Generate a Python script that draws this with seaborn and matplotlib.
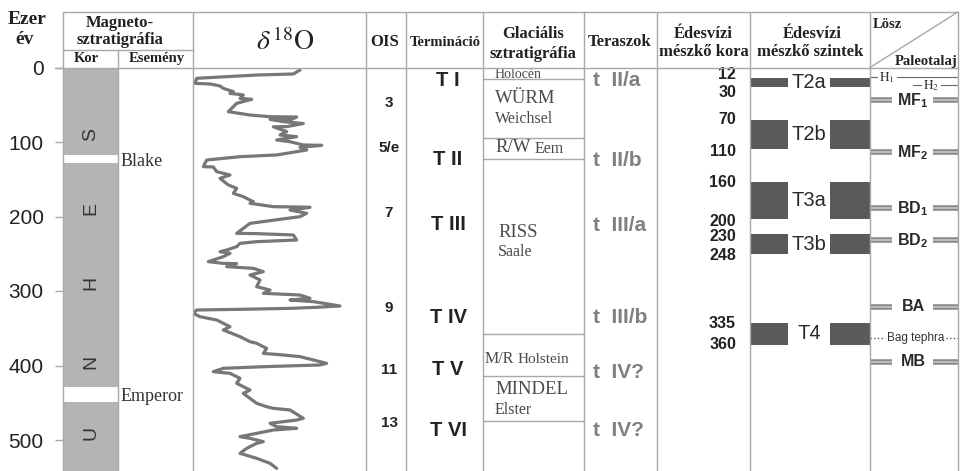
import pandas as pd
import seaborn as sns
import matplotlib.pyplot as plt

# delta18O curve: age (ka) and value (permil)
d18o_age = [3.4, 8.7, 10.1, 14.5, 21.3, 22.1, 24.8, 28.0, 32.4, 34.7,
            36.9, 41.4, 42.7, 48.1, 59.3, 63.8, 66.0, 66.5, 70.5, 69.6,
            72.7, 74.9, 75.2, 79.4, 79.6, 86.1, 90.6, 92.8, 97.3, 99.6,
            104.0, 104.5, 107.2, 110.7, 113.0, 117.4, 119.7, 124.2, 133.1, 133.5,
            139.8, 144.3, 148.8, 157.7, 162.2, 168.9, 173.4, 180.1, 182.3, 186.8,
            187.3, 187.7, 191.3, 195.7, 200.2, 209.2, 222.6, 223.0, 224.8, 231.5,
            233.8, 236.0, 240.5, 245.0, 247.2, 249.4, 253.9, 260.6, 262.9, 263.3,
            267.3, 269.6, 274.0, 278.5, 285.2, 294.2, 298.7, 303.1, 305.4, 309.8,
            312.1, 314.3, 320.1, 321.9, 323.3, 324.6, 325.5, 330.0, 334.5, 338.9,
            347.9, 352.3, 361.3, 368.0, 370.2, 377.0, 383.7, 385.9, 388.1, 397.1,
            399.3, 401.6, 403.8, 408.3, 410.5, 417.2, 423.9, 428.4, 432.9, 437.4,
            444.1, 450.8, 455.3, 457.5, 459.7, 470.9, 473.2, 477.6, 482.1, 484.3,
            486.6, 495.5, 497.8, 502.2, 504.5, 511.2, 517.9, 524.6, 531.3, 538.0]
d18o_val = [3.68, 3.76, 4.20, 4.92, 4.94, 4.76, 4.64, 4.60, 4.48, 4.52,
            4.36, 4.40, 4.26, 4.44, 4.54, 4.28, 4.04, 3.72, 3.80, 4.04,
            3.88, 3.68, 3.64, 3.84, 4.00, 3.84, 3.92, 3.72, 3.96, 3.80,
            3.64, 3.42, 3.68, 3.60, 3.72, 3.96, 4.40, 4.80, 4.84, 4.72,
            4.68, 4.52, 4.64, 4.54, 4.44, 4.48, 4.36, 4.24, 4.28, 4.00,
            3.68, 3.56, 3.80, 3.60, 3.68, 4.28, 4.44, 4.20, 3.76, 3.72,
            4.20, 4.40, 4.44, 4.56, 4.64, 4.52, 4.60, 4.78, 4.60, 4.44,
            4.56, 4.24, 4.12, 4.28, 4.16, 4.20, 4.04, 4.12, 3.68, 3.56,
            3.80, 3.52, 3.20, 3.48, 3.80, 4.40, 4.92, 4.96, 4.88, 4.68,
            4.52, 4.60, 4.40, 4.28, 4.20, 4.08, 4.12, 3.88, 3.68, 3.36,
            3.44, 4.12, 4.60, 4.72, 4.52, 4.40, 4.44, 4.36, 4.28, 4.36,
            4.28, 4.20, 4.08, 4.00, 3.80, 3.64, 3.72, 4.04, 3.96, 3.72,
            4.00, 4.40, 4.28, 4.12, 4.20, 4.32, 4.40, 4.20, 4.04, 3.96]

age_ticks = [0, 100, 200, 300, 400, 500]

# magnetostratigraphy
polarity_letters = ['S', 'E', 'H', 'N', 'U']
polarity_letter_ka = [90, 189, 289, 395, 491]
event_names = ['Blake', 'Emperor']
event_top = [118, 429]
event_bottom = [128, 449]

ois_labels = ['3', '5/e', '7', '9', '11', '13']
ois_ka = [48, 108, 195, 323, 406, 477]

term_labels = ['T I', 'T II', 'T III', 'T IV', 'T V', 'T VI']
term_ka = [17, 124, 211, 336, 406, 487]

# glacial stratigraphy
glacial_bounds = [15, 95, 123, 358, 414, 475]
glacial_main = ['WÜRM', 'R/W', 'RISS', 'M/R', 'MINDEL']
glacial_alt = ['Weichsel', 'Eem', 'Saale', 'Holstein', 'Elster']

terrace_labels = ['t  II/a', 't  II/b', 't  III/a', 't  III/b', 't  IV?', 't  IV?']
terrace_ka = [17, 125, 212, 336, 410, 487]

# freshwater limestone ages and levels
age_labels = ['12', '30', '70', '110', '160', '200', '230', '248', '335', '360']
age_label_ka = [10, 33, 70, 113, 155, 207, 227, 252, 343, 372]
level_names = ['T2a', 'T2b', 'T3a', 'T3b', 'T4']
level_top = [14, 70, 154, 224, 343]
level_bottom = [26, 110, 204, 251, 372]

# loess / paleosol
soil_names = [r'$\mathbf{MF_1}$', r'$\mathbf{MF_2}$', r'$\mathbf{BD_1}$',
              r'$\mathbf{BD_2}$', 'BA', 'MB']
soil_ka = [44, 114, 189, 232, 321, 395]
h_names = [r'$\mathrm{H_1}$', r'$\mathrm{H_2}$']
h_ka = [13, 24]
tephra_ka = 363

SERIF = ['Liberation Serif', 'DejaVu Serif']
SANS = ['Liberation Sans', 'DejaVu Sans']
LINE = '#a8a8a8'
DARK = '#5a5a5a'

sns.set_theme(style='white')
plt.rcParams['font.family'] = SANS
plt.rcParams['mathtext.fontset'] = 'custom'
plt.rcParams['mathtext.rm'] = 'Liberation Sans'
plt.rcParams['mathtext.bf'] = 'Liberation Sans:bold'

fig = plt.figure(figsize=(9.64, 4.71), dpi=100)
top_px = 67.5
ax_h = (471 - top_px) / 471
ymax = (471 - top_px) / 0.745

# body axes, x in pixel-like units, y in ka
ax = fig.add_axes([0, 0, 1, ax_h])
ax.set_xlim(0, 964)
ax.set_ylim(ymax, 0)
for s in ['top', 'right', 'bottom', 'left']:
    ax.spines[s].set_visible(False)
ax.spines['left'].set_position(('data', 63))
ax.set_xticks([])
ax.set_yticks(age_ticks)
ax.tick_params(axis='y', left=True, length=6, width=1, color=LINE, pad=8,
               labelsize=15, labelcolor='#222222')

# polarity column
seg_start = [0] + event_bottom
seg_end = event_top + [ymax]
for s0, s1 in zip(seg_start, seg_end):
    ax.bar(90.5, s1 - s0, bottom=s0, width=55, color='#b4b4b4', linewidth=0)
for letter, ka in zip(polarity_letters, polarity_letter_ka):
    ax.text(91, ka, letter, rotation=90, ha='center', va='center', fontsize=14, color='#333333')
for name, t0, t1 in zip(event_names, event_top, event_bottom):
    ax.text(121, (t0 + t1) / 2 + 3, name, ha='left', va='center', fontsize=13,
            family=SERIF, color='#333333')

for lbl, ka in zip(ois_labels, ois_ka):
    ax.text(389, ka, lbl, ha='center', va='center', fontsize=11, fontweight='bold', color='#222222')
for lbl, ka in zip(term_labels, term_ka):
    ax.text(448, ka, lbl, ha='center', va='center', fontsize=14.5, fontweight='bold', color='#222222')

# glacial column
for b in glacial_bounds:
    ax.plot([483, 584], [b, b], color=LINE, lw=1)
gc = '#4a4a4a'
ax.text(495, 9, 'Holocén', ha='left', va='center', fontsize=10, family=SERIF, color=gc)
ax.text(495, 42, glacial_main[0], ha='left', va='center', fontsize=13.5, family=SERIF, color=gc)
ax.text(495, 69, glacial_alt[0], ha='left', va='center', fontsize=11.5, family=SERIF, color=gc)
ax.text(495, 108, glacial_main[1], ha='left', va='center', fontsize=13.5, family=SERIF, color=gc)
ax.text(535, 109, glacial_alt[1], ha='left', va='center', fontsize=11.5, family=SERIF, color=gc)
ax.text(498, 222, glacial_main[2], ha='left', va='center', fontsize=13.5, family=SERIF, color=gc)
ax.text(498, 248, glacial_alt[2], ha='left', va='center', fontsize=11.5, family=SERIF, color=gc)
ax.text(485, 391, glacial_main[3], ha='left', va='center', fontsize=11.5, family=SERIF, color=gc)
ax.text(518, 392, glacial_alt[3], ha='left', va='center', fontsize=11, family=SERIF, color=gc)
ax.text(495, 432, glacial_main[4], ha='left', va='center', fontsize=13.5, family=SERIF, color=gc)
ax.text(495, 460, glacial_alt[4], ha='left', va='center', fontsize=11.5, family=SERIF, color=gc)

for lbl, ka in zip(terrace_labels, terrace_ka):
    ax.text(593, ka, lbl, ha='left', va='center', fontsize=15, fontweight='bold', color='#808080')

for lbl, ka in zip(age_labels, age_label_ka):
    ax.text(736, ka, lbl, ha='right', va='center', fontsize=11.5, fontweight='bold', color='#222222')

for name, t0, t1 in zip(level_names, level_top, level_bottom):
    ax.bar(769, t1 - t0, bottom=t0, width=38, color=DARK, linewidth=0)
    ax.bar(850, t1 - t0, bottom=t0, width=40, color=DARK, linewidth=0)
    ax.text(809, (t0 + t1) / 2, name, ha='center', va='center', fontsize=14.5, color='#2a2a2a')

# loess / paleosol bands
for name, ka in zip(soil_names, soil_ka):
    for x0, x1 in [(870, 892), (933, 958)]:
        ax.plot([x0, x1], [ka, ka], color='#8a8a8a', lw=4, solid_capstyle='butt')
        ax.plot([x0, x1], [ka, ka], color='#c4c4c4', lw=1.2, solid_capstyle='butt')
    ax.text(913, ka, name, ha='center', va='center', fontsize=11.5, fontweight='bold', color='#2a2a2a')
h_segs = [[(870, 877), (897, 958)], [(913, 921), (941, 958)]]
h_x = [887, 931]
for name, ka, segs, hx in zip(h_names, h_ka, h_segs, h_x):
    for x0, x1 in segs:
        ax.plot([x0, x1], [ka, ka], color='#666666', lw=0.8)
    ax.text(hx, ka, name, ha='center', va='center', fontsize=9.5, color='#333333',
            math_fontfamily='stix')
for x0, x1 in [(870, 885), (946, 958)]:
    ax.plot([x0, x1], [tephra_ka, tephra_ka], color='#555555', lw=1, ls=':')
ax.text(916, tephra_ka, 'Bag tephra', ha='center', va='center', fontsize=8.5, color='#333333')

# delta18O curve
ax_d = fig.add_axes([193 / 964, 0, 173 / 964, ax_h])
df = pd.DataFrame({'age': d18o_age, 'd18o': d18o_val})
sns.lineplot(data=df, x='d18o', y='age', sort=False, estimator=None,
             color='#777777', lw=2.3, ax=ax_d)
ax_d.set_ylim(ymax, 0)
ax_d.set_xlim(4.964, 2.888)
ax_d.axis('off')
ax_d.patch.set_alpha(0)

# table grid and header
hd = fig.add_axes([0, 0, 1, 1])
hd.set_xlim(0, 964)
hd.set_ylim(471, 0)
hd.axis('off')
hd.patch.set_alpha(0)
hd.plot([63, 958], [12, 12], color=LINE, lw=1)
hd.plot([55, 958], [top_px, top_px], color=LINE, lw=1)
hd.plot([63, 193], [50, 50], color=LINE, lw=1)
for x in [63, 193, 366, 406, 483, 584, 657, 750, 870, 958]:
    hd.plot([x, x], [12, 471], color=LINE, lw=1)
hd.plot([118, 118], [50, 471], color=LINE, lw=1)
hd.plot([870, 958], [top_px, 12], color=LINE, lw=1)

hb = dict(family=SERIF, fontweight='bold', color='#222222', ha='center', va='center')
hd.text(27, 19, 'Ezer', fontsize=14, **hb)
hd.text(25, 39, 'év', fontsize=14, **hb)
hd.text(120, 23, 'Magneto-', fontsize=12, **hb)
hd.text(120, 40, 'sztratigráfia', fontsize=12, **hb)
hd.text(86, 58.5, 'Kor', fontsize=10.5, **hb)
hd.text(157, 58.5, 'Esemény', fontsize=10.5, **hb)
hd.text(285, 42, r'$\delta\,^{18}\mathrm{O}$', fontsize=20, color='#222222',
        ha='center', va='center', math_fontfamily='stix')
hd.text(385, 42, 'OIS', fontsize=12, **hb)
hd.text(445, 42, 'Termináció', fontsize=10.5, **hb)
hd.text(533, 34, 'Glaciális', fontsize=12, **hb)
hd.text(533, 54, 'sztratigráfia', fontsize=12, **hb)
hd.text(620, 42, 'Teraszok', fontsize=12, **hb)
hd.text(703, 34, 'Édesvízi', fontsize=12, **hb)
hd.text(704, 52, 'mészkő kora', fontsize=12, **hb)
hd.text(812, 34, 'Édesvízi', fontsize=12, **hb)
hd.text(810, 52, 'mészkő szintek', fontsize=12, **hb)
hd.text(873, 24, 'Lösz', fontsize=10.5, family=SERIF, fontweight='bold', color='#222222',
        ha='left', va='center')
hd.text(957, 61, 'Paleotalaj', fontsize=10.5, family=SERIF, fontweight='bold', color='#222222',
        ha='right', va='center')

fig.savefig('out.png', dpi=100)
